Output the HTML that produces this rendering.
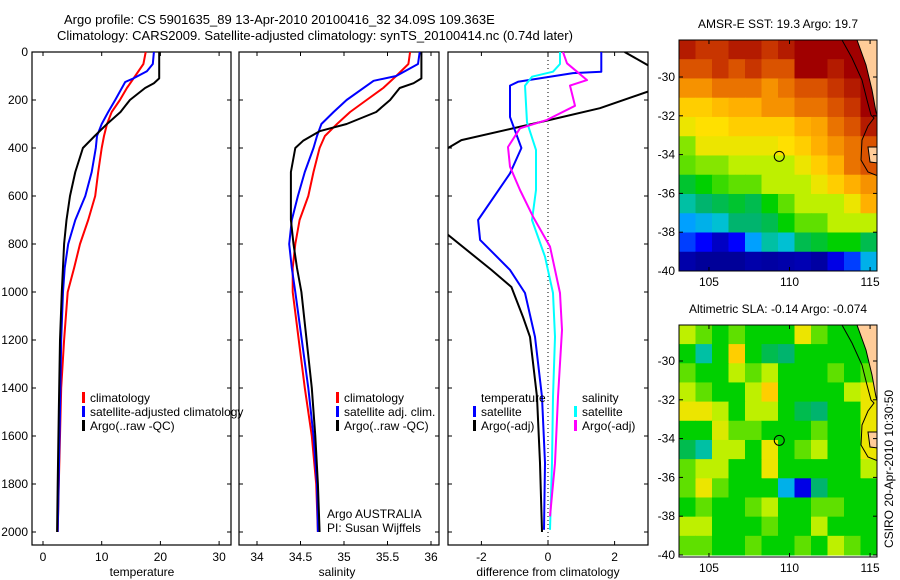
<!DOCTYPE html>
<html><head><meta charset="utf-8">
<style>
html,body{margin:0;padding:0;background:#fff;}
svg{display:block;font-family:"Liberation Sans",sans-serif;}
text{font-size:12px;fill:#000;}
</style></head>
<body>
<svg id="fig" width="900" height="580" viewBox="0 0 900 580" xmlns="http://www.w3.org/2000/svg">
<defs>
<clipPath id="c1"><rect x="32" y="52" width="199" height="493"/></clipPath>
<clipPath id="c2"><rect x="239" y="52" width="200" height="493"/></clipPath>
<clipPath id="c3"><rect x="448" y="52" width="200" height="493"/></clipPath>
<clipPath id="cm1"><rect x="679" y="40" width="198" height="231"/></clipPath>
<clipPath id="cm2"><rect x="679" y="325" width="198" height="232"/></clipPath>
</defs>
<text x="64" y="24" style="font-size:13px">Argo profile: CS 5901635_89 13-Apr-2010 20100416_32 34.09S 109.363E</text>
<text x="57" y="40" style="font-size:13px">Climatology: CARS2009. Satellite-adjusted climatology: synTS_20100414.nc (0.74d later)</text>
<g id="g1"></g>
<g id="g2"></g>
<g id="g3"></g>
<g id="m1"></g>
<g id="m2"></g>
<text transform="translate(893,548) rotate(-90)" style="font-size:12px">CSIRO 20-Apr-2010 10:30:50</text>
</svg>
<script>
// ---- profile data ----
const tArgoDepth=[0,110,130,150,200,250,300,350,400,500,600,700,800,1000,1200,1500,1800,2000];
const tArgo=[19.8,19.8,18.9,17.4,14.8,13.2,10.9,8.8,6.8,5.5,4.6,4.0,3.6,3.2,2.9,2.7,2.5,2.4];
const tClimDepth=[0,50,100,150,200,250,300,350,400,500,600,700,800,900,1000,1200,1400,1600,1800,2000];
const tClim=[17.5,17.1,15.7,14.3,13.1,11.7,10.9,10.4,10.0,9.4,8.9,7.7,6.3,5.3,4.2,3.6,3.1,2.9,2.7,2.5];
const tSatDepth=[0,50,80,110,125,200,250,300,350,400,500,600,700,800,900,1000,1200,1500,2000];
const tSat=[18.9,18.7,17.7,15.4,14.0,12.3,11.1,10.0,9.2,9.0,8.3,7.2,5.5,4.3,3.7,3.4,3.1,2.9,2.5];

const sArgoDepth=[0,110,130,150,200,250,300,330,370,400,500,700,800,900,1000,1400,1600,1800,2000];
const sArgo=[35.89,35.89,35.80,35.64,35.53,35.37,35.03,34.72,34.53,34.44,34.39,34.39,34.42,34.46,34.51,34.63,34.67,34.70,34.72];
const sClimDepth=[0,50,100,150,200,250,300,350,400,500,600,700,800,900,1000,1400,1600,1800,2000];
const sClim=[35.76,35.74,35.60,35.45,35.26,35.07,34.92,34.78,34.72,34.65,34.59,34.49,34.44,34.41,34.41,34.55,34.63,34.68,34.70];
const sSatDepth=[0,50,100,120,200,250,300,350,400,500,600,700,800,900,1000,1400,1600,1800,2000];
const sSat=[35.87,35.85,35.60,35.34,35.03,34.88,34.74,34.69,34.65,34.55,34.47,34.40,34.37,34.40,34.44,34.59,34.65,34.69,34.70];

const dTArgoDepth=[0,55,100,165,234,283,367,400,500,700,762,908,979,1104,1187,1437,1713,2000];
const dTArgo=[2.3,3.0,4.2,3.0,1.56,0.06,-2.6,-3.0,-4.0,-3.5,-3.0,-1.7,-1.1,-0.75,-0.54,-0.33,-0.24,-0.18];
const dTSatDepth=[0,50,82,88,124,140,271,400,506,700,783,908,1004,1187,1437,1713,1991];
const dTSat=[1.6,1.6,1.6,0.75,-0.9,-1.14,-1.14,-0.8,-1.14,-2.1,-2.04,-1.14,-0.69,-0.39,-0.18,-0.09,-0.12];
const dSSatDepth=[0,50,82,103,140,293,408,575,700,853,1004,1187,1437,1713,1991];
const dSSat=[0.36,0.36,0.15,-0.48,-0.69,-0.63,-0.36,-0.36,-0.48,-0.09,0.15,0.21,0.15,0.12,0.06];
const dSArgoDepth=[0,47,82,117,140,224,283,318,396,478,575,686,811,1004,1158,1437,1713,1935];
const dSArgo=[0.45,0.57,0.87,1.17,0.66,0.81,-0.03,-0.84,-1.2,-1.14,-0.84,-0.45,0.06,0.36,0.42,0.30,0.21,0.06];

const depthTicks=[0,200,400,600,800,1000,1200,1400,1600,1800,2000];
const tTicks=[0,10,20,30];
const sTicks=[34,34.5,35,35.5,36];
const sTickLabels=["34","34.5","35","35.5","36"];
const dTicks=[-2,0,2];

// ---- map data (jet-like 0..1 index), 12 rows (N->S) x 12 cols (W->E) ----
const sstGrid=[
[.95,.9,.9,.95,.95,.9,.95,1,1,1,1,1],
[.85,.85,.9,.85,.9,.85,.85,1,1,.95,1,1],
[.75,.75,.8,.8,.8,.75,.8,.85,.85,.9,.95,1],
[.65,.65,.68,.7,.7,.75,.75,.8,.8,.85,.9,1],
[.6,.62,.62,.65,.65,.65,.65,.7,.72,.8,.85,.95],
[.52,.6,.6,.6,.6,.6,.62,.65,.7,.75,.8,.85],
[.5,.52,.52,.55,.55,.55,.55,.6,.65,.7,.8,.85],
[.42,.45,.48,.5,.5,.55,.55,.55,.6,.65,.7,.75],
[.35,.38,.4,.42,.4,.45,.5,.55,.55,.55,.6,.7],
[.28,.3,.32,.38,.38,.4,.45,.5,.5,.55,.55,.55],
[.2,.15,.08,.15,.28,.35,.32,.4,.42,.45,.45,.4],
[.05,.03,.03,.03,.05,.04,.05,.06,.04,.12,.2,.3]];
const slaGrid=[
[.55,.5,.45,.5,.45,.45,.45,.6,.5,.45,.45,.45],
[.45,.35,.45,.65,.45,.4,.38,.45,.45,.45,.45,.45],
[.5,.45,.45,.55,.5,.55,.45,.45,.45,.5,.45,.5],
[.55,.5,.45,.45,.55,.65,.45,.45,.45,.45,.55,.6],
[.6,.6,.55,.45,.55,.55,.45,.4,.38,.45,.45,.6],
[.45,.45,.58,.5,.5,.45,.45,.45,.5,.45,.45,.6],
[.4,.35,.55,.55,.45,.6,.45,.5,.55,.45,.45,.6],
[.5,.55,.55,.45,.45,.6,.45,.45,.45,.45,.45,.55],
[.5,.6,.5,.45,.45,.45,.3,.12,.38,.45,.45,.45],
[.45,.5,.45,.45,.5,.55,.45,.45,.5,.5,.45,.45],
[.55,.55,.45,.45,.45,.5,.45,.45,.55,.45,.45,.45],
[.5,.5,.45,.45,.5,.45,.45,.5,.45,.55,.5,.45]];
const lonTicks=[105,110,115];
const latTicks=[-30,-32,-34,-36,-38,-40];
const argoLon=109.363, argoLat=-34.09;

const NS="http://www.w3.org/2000/svg";
function mk(tag,parent,attrs){const e=document.createElementNS(NS,tag);for(const k in attrs)e.setAttribute(k,attrs[k]);parent.appendChild(e);return e;}

const yD=d=>52+0.24*d;
const xT=v=>43+5.87*v;
const xS=v=>257+87*(v-34);
const xDf=v=>548+33.3*v;

function frame(g,x0,x1,ticks,xf,labels,title,tx){
  const r=mk('rect',g,{x:x0,y:52,width:x1-x0,height:493,fill:'none',stroke:'#000','stroke-width':1.2});
  
  
  ticks.forEach((t,i)=>{
    const x=xf(t);
    const a=mk('line',g,{x1:x,x2:x,y1:545,y2:541,stroke:'#000'});
    
    
    const b=mk('line',g,{x1:x,x2:x,y1:52,y2:56,stroke:'#000'});
    
    
    const l=mk('text',g,{x:x,y:561,'text-anchor':'middle'});
    l.textContent=labels[i];
    
    
  });
  depthTicks.forEach(d=>{
    const y=yD(d);
    const a=mk('line',g,{x1:x0,x2:x0+4,y1:y,y2:y,stroke:'#000'});
    
    
    const b=mk('line',g,{x1:x1,x2:x1-4,y1:y,y2:y,stroke:'#000'});
    
    
  });
  const t=mk('text',g,{x:tx,y:576,'text-anchor':'middle'});
  t.textContent=title;
  
  
}
function series(g,clip,depths,vals,xf,color,w,name){
  const pts=depths.map((d,i)=>xf(vals[i]).toFixed(1)+','+yD(d).toFixed(1)).join(' ');
  const p=mk('polyline',g,{points:pts,fill:'none',stroke:color,'stroke-width':w,'clip-path':'url(#'+clip+')','stroke-linejoin':'round'});
  
  
}
function legend(g,x,y,color,label){
  if(color){
    const m=mk('rect',g,{x:x-8,y:y-10,width:3,height:11,fill:color});
    
    
  }
  const t=mk('text',g,{x:x,y:y});
  t.textContent=label;
  
  
}

const g1=document.getElementById('g1');
frame(g1,32,231,tTicks,xT,tTicks.map(String),'temperature',142);
depthTicks.forEach(d=>{
  const l=mk('text',g1,{x:28,y:yD(d)+4,'text-anchor':'end'});
  l.textContent=String(d);
  
  
});
series(g1,'c1',tClimDepth,tClim,xT,'#ff0000',2,'temp-climatology-line');
series(g1,'c1',tSatDepth,tSat,xT,'#0000ff',2,'temp-satellite-line');
series(g1,'c1',tArgoDepth,tArgo,xT,'#000000',2,'temp-argo-line');
legend(g1,90,402,'#ff0000','climatology');
legend(g1,90,416,'#0000ff','satellite-adjusted climatology');
legend(g1,90,430,'#000000','Argo(..raw -QC)');

const g2=document.getElementById('g2');
frame(g2,239,439,sTicks,xS,sTickLabels,'salinity',337);
series(g2,'c2',sClimDepth,sClim,xS,'#ff0000',2,'sal-climatology-line');
series(g2,'c2',sSatDepth,sSat,xS,'#0000ff',2,'sal-satellite-line');
series(g2,'c2',sArgoDepth,sArgo,xS,'#000000',2,'sal-argo-line');
legend(g2,344,402,'#ff0000','climatology');
legend(g2,344,416,'#0000ff','satellite adj. clim.');
legend(g2,344,430,'#000000','Argo(..raw -QC)');
legend(g2,327,518,null,'Argo AUSTRALIA');
legend(g2,327,532,null,'PI: Susan Wijffels');

const g3=document.getElementById('g3');
frame(g3,448,648,dTicks,xDf,dTicks.map(String),'difference from climatology',548);
const zl=mk('line',g3,{x1:xDf(0),x2:xDf(0),y1:52,y2:545,stroke:'#000','stroke-dasharray':'1,3'});


series(g3,'c3',dTArgoDepth,dTArgo,xDf,'#000000',2,'temp-argo-diff-line');
series(g3,'c3',dTSatDepth,dTSat,xDf,'#0000ff',2,'temp-satellite-diff-line');
series(g3,'c3',dSSatDepth,dSSat,xDf,'#00ffff',2,'sal-satellite-diff-line');
series(g3,'c3',dSArgoDepth,dSArgo,xDf,'#ff00ff',2,'sal-argo-diff-line');
legend(g3,481,402,null,'temperature');
legend(g3,481,416,'#0000ff','satellite');
legend(g3,481,430,'#000000','Argo(-adj)');
legend(g3,582,402,null,'salinity');
legend(g3,582,416,'#00ffff','satellite');
legend(g3,582,430,'#ff00ff','Argo(-adj)');

const stops=[[0,[0,0,128]],[.15,[0,0,255]],[.28,[0,160,255]],[.33,[0,200,200]],[.38,[0,180,110]],[.45,[0,208,0]],[.55,[190,240,0]],[.62,[255,224,0]],[.7,[255,176,0]],[.78,[240,128,0]],[.88,[208,64,0]],[1,[160,0,0]]];
function cmap(v){for(let i=1;i<stops.length;i++){if(v<=stops[i][0]){const a=stops[i-1],b=stops[i];const f=(v-a[0])/(b[0]-a[0]);const c=a[1].map((x,k)=>Math.round(x+(b[1][k]-x)*f));return 'rgb('+c.join(',')+')';}}return 'rgb(160,0,0)';}

function drawMap(g,clip,grid,top,title,land,coast){
  const lonL=103.14,lonR=115.43,latT=(top===40)?-28.09:-28.14;
  const x=lon=>679+(lon-lonL)*(198/(lonR-lonL));
  const y=lat=>(top===40?77:361)+(-30-lat)*19.4;
  const cg=mk('g',g,{'clip-path':'url(#'+clip+')'});
  const nr=grid.length,nc=grid[0].length;
  const dLon=(lonR-lonL)/nc,dLat=(latT+40)/nr;
  grid.forEach((row,i)=>row.forEach((v,j)=>{
    const x0=x(lonL+j*dLon),y0=y(latT-i*dLat);
    const c=mk('rect',cg,{x:x0.toFixed(2),y:y0.toFixed(2),width:(x(lonL+(j+1)*dLon)-x0+0.5).toFixed(2),height:(y(latT-(i+1)*dLat)-y0+0.5).toFixed(2),fill:cmap(v)});
    
    
  }));
  land.forEach(p=>{
    const l=mk('polygon',cg,{points:p,fill:'#ffcc99',stroke:'#000','stroke-width':1});
    
    
  });
  const cl=mk('polyline',cg,{points:coast,fill:'none',stroke:'#000','stroke-width':1});
  
  
  const bottom=top===40?271:557;
  const fr=mk('rect',g,{x:679,y:top,width:198,height:bottom-top,fill:'none',stroke:'#000','stroke-width':1});
  
  
  lonTicks.forEach(lo=>{
    const t=mk('line',g,{x1:x(lo),x2:x(lo),y1:bottom,y2:bottom-4,stroke:'#000'});
    
    
    const t2=mk('line',g,{x1:x(lo),x2:x(lo),y1:top,y2:top+4,stroke:'#000'});
    
    
    const l=mk('text',g,{x:x(lo),y:bottom+15,'text-anchor':'middle'});
    l.textContent=String(lo);
    
    
  });
  latTicks.forEach(la=>{
    const t=mk('line',g,{x1:679,x2:683,y1:y(la),y2:y(la),stroke:'#000'});
    
    
    const t2=mk('line',g,{x1:877,x2:873,y1:y(la),y2:y(la),stroke:'#000'});
    
    
    const l=mk('text',g,{x:675,y:y(la)+4,'text-anchor':'end'});
    l.textContent=String(la);
    
    
  });
  const c=mk('circle',g,{cx:x(argoLon),cy:y(argoLat),r:5,fill:'none',stroke:'#000','stroke-width':1});
  
  
  const tt=mk('text',g,{x:778,y:top-12,'text-anchor':'middle'});
  tt.textContent=title;
  
  
}
drawMap(document.getElementById('m1'),'cm1',sstGrid,40,'AMSR-E SST: 19.3 Argo: 19.7',
 ['857,40 866,65 872,90 876,112 878,118 878,40','868,147 878,147 878,163 870,162'],
 '842,40 852,58 862,80 867,100 871,115 874,118 868,126 862,140 861,160 868,172 878,176');
drawMap(document.getElementById('m2'),'cm2',slaGrid,325,'Altimetric SLA: -0.14  Argo: -0.074',
 ['857,325 866,350 872,375 876,397 878,403 878,325','868,432 878,432 878,448 870,447'],
 '842,325 852,343 862,365 867,385 871,400 874,403 868,411 862,425 861,445 868,457 878,461');
</script>
</body></html>
